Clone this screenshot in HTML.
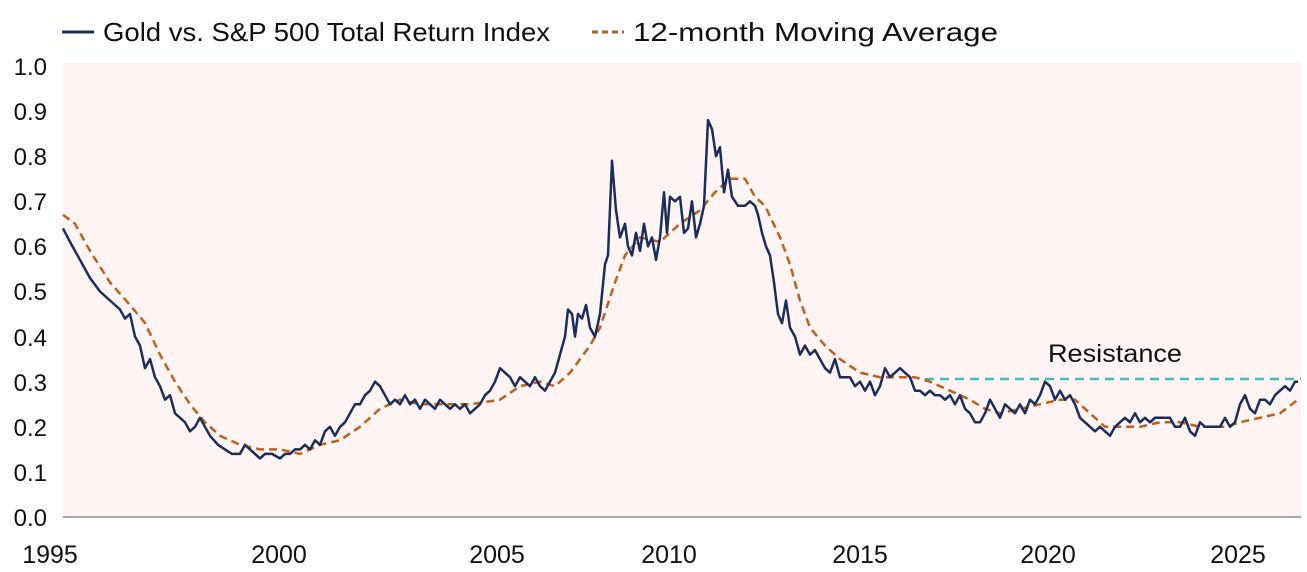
<!DOCTYPE html>
<html><head><meta charset="utf-8"><style>
html,body{margin:0;padding:0;background:#fff;}
svg{display:block;font-family:"Liberation Sans",sans-serif;}
</style></head><body>
<svg id="c" width="1307" height="572" viewBox="0 0 1307 572">
<rect x="63" y="63" width="1238" height="454" fill="#fdf4f3"/>
<line x1="63" y1="517" x2="1301" y2="517" stroke="#8a8a8a" stroke-width="1.5"/>
<g font-size="24" fill="#111" text-anchor="end">
<text x="47" y="75">1.0</text><text x="47" y="120">0.9</text><text x="47" y="165">0.8</text>
<text x="47" y="210">0.7</text><text x="47" y="255">0.6</text><text x="47" y="300">0.5</text>
<text x="47" y="346">0.4</text><text x="47" y="391">0.3</text><text x="47" y="436">0.2</text>
<text x="47" y="481">0.1</text><text x="47" y="526">0.0</text>
</g>
<g font-size="25" fill="#111" text-anchor="middle">
<text x="50" y="563">1995</text><text x="279" y="563">2000</text><text x="497" y="563">2005</text>
<text x="669" y="563">2010</text><text x="860" y="563">2015</text><text x="1048" y="563">2020</text>
<text x="1238" y="563">2025</text>
</g>
<line x1="62" y1="32" x2="94" y2="32" stroke="#1b2d5a" stroke-width="3"/>
<text x="103" y="41" font-size="26" fill="#111" textLength="447" lengthAdjust="spacingAndGlyphs">Gold vs. S&amp;P 500 Total Return Index</text>
<line x1="592" y1="32" x2="624" y2="32" stroke="#c0601c" stroke-width="3" stroke-dasharray="6,4"/>
<text x="633" y="41" font-size="26" fill="#111" textLength="365" lengthAdjust="spacingAndGlyphs">12-month Moving Average</text>
<line x1="925" y1="379" x2="1301" y2="379" stroke="#3fbfb5" stroke-width="2.5" stroke-dasharray="9,6"/>
<text x="1048" y="362" font-size="25" fill="#111" textLength="134" lengthAdjust="spacingAndGlyphs">Resistance</text>
<path id="ma" fill="none" stroke="#c0601c" stroke-width="2.5" stroke-dasharray="8,5"/>
<path id="gl" fill="none" stroke="#1b2d5a" stroke-width="2.5" stroke-linejoin="round"/>
</svg>
<script>
function Y(v){return 517-v*451;}
function P(a){var s="";for(var i=0;i<a.length;i+=2)s+=(i?"L":"M")+a[i]+","+Y(a[i+1]).toFixed(1);return s;}
var g=[63,.64,70,.61,80,.57,90,.53,100,.50,110,.48,120,.46,125,.44,130,.45,135,.40,140,.38,145,.33,150,.35,155,.31,160,.29,165,.26,170,.27,175,.23,180,.22,185,.21,190,.19,195,.20,200,.22,205,.20,210,.18,218,.16,225,.15,232,.14,240,.14,245,.16,250,.15,255,.14,260,.13,265,.14,272,.14,280,.13,285,.14,290,.14,295,.15,300,.15,305,.16,310,.15,315,.17,320,.16,325,.19,330,.20,335,.18,340,.20,345,.21,350,.23,355,.25,360,.25,365,.27,370,.28,375,.30,380,.29,385,.27,390,.25,395,.26,400,.25,405,.27,410,.25,415,.26,420,.24,425,.26,430,.25,435,.24,440,.26,445,.25,450,.24,455,.25,460,.24,465,.25,470,.23,475,.24,480,.25,485,.27,490,.28,495,.30,500,.33,505,.32,510,.31,515,.29,520,.31,525,.30,530,.29,535,.31,540,.29,545,.28,550,.30,555,.32,560,.36,565,.40,568,.46,572,.45,575,.40,578,.45,582,.44,586,.47,590,.42,595,.40,600,.45,605,.56,608,.58,612,.79,616,.68,620,.62,625,.65,628,.60,632,.58,636,.63,640,.59,644,.65,648,.60,652,.62,656,.57,660,.62,664,.72,667,.63,670,.71,675,.70,680,.71,684,.63,688,.64,692,.70,696,.62,700,.65,704,.69,708,.88,712,.86,716,.80,720,.82,724,.72,728,.77,732,.71,738,.69,745,.69,750,.70,755,.69,758,.67,762,.63,766,.60,770,.58,774,.52,778,.45,782,.43,786,.48,790,.42,795,.40,800,.36,805,.38,810,.36,815,.37,820,.35,825,.33,830,.32,835,.35,840,.31,845,.31,850,.31,855,.29,860,.30,865,.28,870,.30,875,.27,880,.29,885,.33,890,.31,895,.32,900,.33,905,.32,910,.31,915,.28,920,.28,925,.27,930,.28,935,.27,940,.27,945,.26,950,.27,955,.25,960,.27,965,.24,970,.23,975,.21,980,.21,985,.23,990,.26,995,.24,1000,.22,1005,.25,1010,.24,1015,.23,1020,.25,1025,.23,1030,.26,1035,.25,1040,.27,1045,.30,1050,.29,1055,.26,1060,.28,1065,.26,1070,.27,1075,.25,1080,.22,1085,.21,1090,.20,1095,.19,1100,.20,1105,.19,1110,.18,1115,.20,1120,.21,1125,.22,1130,.21,1135,.23,1140,.21,1145,.22,1150,.21,1155,.22,1160,.22,1170,.22,1175,.20,1180,.20,1185,.22,1190,.19,1195,.18,1200,.21,1205,.20,1210,.20,1220,.20,1225,.22,1230,.20,1235,.21,1240,.25,1245,.27,1250,.24,1255,.23,1260,.26,1265,.26,1270,.25,1275,.27,1280,.28,1285,.29,1290,.28,1295,.30,1298,.30];
var m=[63,.67,75,.65,90,.59,110,.52,130,.47,145,.43,160,.36,175,.30,190,.25,205,.21,220,.18,240,.16,260,.15,280,.15,300,.14,320,.16,340,.17,360,.20,380,.24,400,.26,420,.25,440,.25,470,.25,500,.26,520,.29,540,.30,555,.29,570,.32,590,.38,600,.42,615,.52,625,.58,640,.62,660,.61,680,.65,700,.68,715,.72,730,.75,745,.75,755,.71,765,.69,780,.62,790,.56,800,.48,810,.42,825,.38,840,.35,860,.32,880,.31,900,.31,915,.31,930,.30,950,.28,970,.26,985,.24,1000,.23,1020,.24,1040,.25,1060,.26,1075,.26,1090,.23,1105,.20,1120,.20,1140,.20,1160,.21,1180,.21,1200,.20,1225,.20,1240,.21,1260,.22,1280,.23,1298,.26];
document.getElementById("gl").setAttribute("d",P(g));
document.getElementById("ma").setAttribute("d",P(m));
</script>
</body></html>
